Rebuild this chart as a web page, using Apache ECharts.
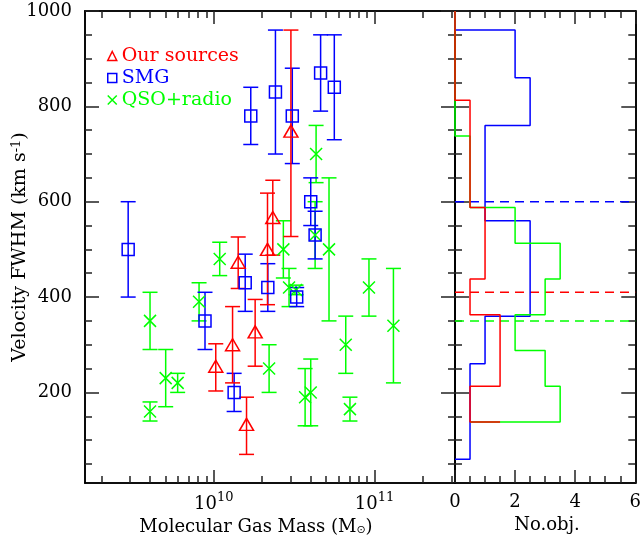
<!DOCTYPE html>
<html><head><meta charset="utf-8">
<script src="https://cdn.jsdelivr.net/npm/echarts@6/dist/echarts.min.js"></script>
<style>html,body{margin:0;padding:0;background:#fff}#c{width:644px;height:540px}</style>
</head><body><div id="c"></div>
<script>
// ---------------- data ----------------
// Our sources (red triangles): molecular gas mass (Msun), FWHM and error range (km/s)
const oursMass = [1.03e10, 1.31e10, 1.42e10, 1.60e10, 1.81e10, 2.16e10, 2.33e10, 3.02e10];
const oursFwhm = [255, 300, 473, 133, 327, 500, 567, 748];
const oursLo   = [203, 220, 418, 70, 255, 384, 488, 527];
const oursHi   = [302, 380, 526, 190, 395, 618, 645, 960];

// SMG (blue squares)
const smgMass = [2.94e9, 8.83e9, 1.34e10, 1.57e10, 1.70e10, 2.17e10, 2.42e10, 3.08e10, 3.28e10, 4.01e10, 4.27e10, 4.62e10, 5.62e10];
const smgFwhm = [500, 350, 200, 430, 780, 420, 830, 780, 400, 600, 530, 870, 840];
const smgLo   = [400, 290, 160, 370, 720, 370, 700, 680, 380, 550, 480, 790, 730];
const smgHi   = [600, 410, 240, 490, 840, 470, 960, 880, 420, 650, 580, 950, 950];

// QSO+radio (green crosses)
const qsoMass = [4.02e9, 4.02e9, 5.03e9, 5.97e9, 8.11e9, 1.09e10, 2.21e10, 2.71e10, 2.94e10, 3.25e10, 3.70e10, 4.01e10, 4.27e10, 4.33e10, 5.21e10, 6.62e10, 7.03e10, 9.23e10, 1.31e11];
const qsoFwhm = [350, 160, 230, 220, 390, 480, 250, 500, 420, 415, 190, 200, 530, 700, 500, 300, 165, 420, 340];
const qsoLo   = [290, 140, 170, 200, 350, 445, 200, 440, 380, 405, 130, 130, 460, 640, 350, 240, 140, 360, 220];
const qsoHi   = [410, 180, 290, 240, 430, 515, 300, 560, 460, 425, 250, 270, 600, 760, 650, 360, 190, 480, 460];

// Histograms (right panel): bin edges (km/s, top to bottom) and counts per bin
const smgHistEdges = [960, 860, 760, 660, 560, 460, 360, 260, 160, 60];
const smgHistCounts = [2, 2.5, 1, 1, 2.5, 2.5, 1, 0.5, 0.5];
const smgHistTail = 0;
const oursHistEdges = [963, 888, 813, 738, 663, 588, 513, 438, 363, 288, 213, 138];
const oursHistCounts = [0, 0, 0.5, 0.5, 0.5, 1, 1, 0.5, 1.5, 1.5, 0.5];
const oursHistTail = 1.5;
const qsoHistEdges = [963, 888, 813, 738, 663, 588, 513, 438, 363, 288, 213, 138];
const qsoHistCounts = [0, 0, 0, 0.5, 0.5, 2, 3.5, 3, 2, 3, 3.5];
const qsoHistTail = 0.5;

// median FWHM lines
const smgMedian = 600;
const oursMedian = 410;
const qsoMedian = 350;

// axes
const yMajorTicks = [200, 400, 600, 800, 1000];
const yMinorTicks = [50, 100, 150, 250, 300, 350, 450, 500, 550, 650, 700, 750, 850, 900, 950];
const xMajorExp = [10, 11];
const histMajorTicks = [0, 2, 4, 6];
const histMinorTicks = [0.5, 1, 1.5, 2.5, 3, 3.5, 4.5, 5, 5.5];

// ---------------- layout / styles ----------------
const FONT = 'DejaVu Serif';
const RED = '#ff0000', BLUE = '#0000ff', GREEN = '#00ff00';
const X_LOG_MIN = 9.2, X_LOG_MAX = 11.5;
const Y_MIN = 10, Y_MAX = 1000;
const H_MIN = 0, H_MAX = 6;

const xMinorLog = [];
for (let d = 9; d <= 11; d++) for (let k = 2; k <= 9; k++) {
  const v = Math.log10(k * Math.pow(10, d));
  if (v > X_LOG_MIN && v < X_LOG_MAX) xMinorLog.push(v);
}

const lineStyleAxis = { color: '#000', width: 1.6 };
function axis(dim, grid, pos, min, max, ticks, len, label) {
  const a = {
    type: 'value', gridIndex: grid, position: pos, min: min, max: max,
    axisLine: { show: true, onZero: false, lineStyle: lineStyleAxis },
    axisTick: { show: true, inside: true, length: len, customValues: ticks, lineStyle: { color: '#222', width: 1.5 } },
    axisLabel: { show: false },
    splitLine: { show: false }
  };
  if (label) a.axisLabel = label;
  return a;
}
const baseLabel = { show: true, color: '#000', fontFamily: FONT, fontSize: 18 };

const xAxes = [
  // grid 0 (log mass)
  axis('x', 0, 'bottom', X_LOG_MIN, X_LOG_MAX, xMajorExp, 13, Object.assign({}, baseLabel, {
    customValues: xMajorExp, margin: 8,
    formatter: v => '{b|10}{s|' + Math.round(v) + '}',
    rich: {
      b: { fontFamily: FONT, fontSize: 18, lineHeight: 26, color: '#000' },
      s: { fontFamily: FONT, fontSize: 13, lineHeight: 13, verticalAlign: 'top', color: '#000' }
    }
  })),
  axis('x', 0, 'bottom', X_LOG_MIN, X_LOG_MAX, xMinorLog, 7),
  axis('x', 0, 'top', X_LOG_MIN, X_LOG_MAX, xMajorExp, 13),
  axis('x', 0, 'top', X_LOG_MIN, X_LOG_MAX, xMinorLog, 7),
  // grid 1 (histogram counts)
  axis('x', 1, 'bottom', H_MIN, H_MAX, histMajorTicks, 13, Object.assign({}, baseLabel, {
    customValues: histMajorTicks, margin: 9, lineHeight: 20, formatter: v => String(v)
  })),
  axis('x', 1, 'bottom', H_MIN, H_MAX, histMinorTicks, 7),
  axis('x', 1, 'top', H_MIN, H_MAX, histMajorTicks, 13),
  axis('x', 1, 'top', H_MIN, H_MAX, histMinorTicks, 7)
];
const yAxes = [
  axis('y', 0, 'left', Y_MIN, Y_MAX, yMajorTicks, 14, Object.assign({}, baseLabel, {
    customValues: yMajorTicks, margin: 13, formatter: v => String(v)
  })),
  axis('y', 0, 'left', Y_MIN, Y_MAX, yMinorTicks, 7),
  axis('y', 0, 'right', Y_MIN, Y_MAX, yMajorTicks, 14),
  axis('y', 0, 'right', Y_MIN, Y_MAX, yMinorTicks, 7),
  axis('y', 1, 'left', Y_MIN, Y_MAX, yMajorTicks, 14),
  axis('y', 1, 'left', Y_MIN, Y_MAX, yMinorTicks, 7),
  axis('y', 1, 'right', Y_MIN, Y_MAX, yMajorTicks, 14),
  axis('y', 1, 'right', Y_MIN, Y_MAX, yMinorTicks, 7)
];

const CROSS = 'path://M0 0L10 10M10 0L0 10';

function pts(mass, fwhm) { return mass.map((m, i) => [Math.log10(m), fwhm[i]]); }
function errPts(mass, fwhm, lo, hi) { return mass.map((m, i) => [Math.log10(m), fwhm[i], lo[i], hi[i]]); }

function errSeries(name, color, data) {
  return {
    type: 'custom', name: name, xAxisIndex: 0, yAxisIndex: 0, z: 3,
    data: data, encode: { x: 0, y: [1, 2, 3] }, silent: true,
    renderItem: function (params, api) {
      const x = api.value(0);
      const lo = api.coord([x, api.value(2)]);
      const hi = api.coord([x, api.value(3)]);
      const w = 7.5;
      const style = { stroke: color, lineWidth: 1.5, fill: null };
      return {
        type: 'group', children: [
          { type: 'line', shape: { x1: lo[0], y1: lo[1], x2: hi[0], y2: hi[1] }, style: style },
          { type: 'line', shape: { x1: lo[0] - w, y1: lo[1], x2: lo[0] + w, y2: lo[1] }, style: style },
          { type: 'line', shape: { x1: hi[0] - w, y1: hi[1], x2: hi[0] + w, y2: hi[1] }, style: style }
        ]
      };
    }
  };
}
function scatterSeries(name, color, symbol, size, data) {
  return {
    type: 'scatter', name: name, xAxisIndex: 0, yAxisIndex: 0, z: 4,
    symbol: symbol, symbolSize: size, data: data, silent: true,
    itemStyle: { color: symbol === CROSS ? color : 'rgba(0,0,0,0)', borderColor: color, borderWidth: 1.5, opacity: 1 }
  };
}
function histPath(edges, counts, tail) {
  const p = [[0, Y_MAX], [0, edges[0]]];
  for (let i = 0; i < counts.length; i++) {
    p.push([counts[i], edges[i]]);
    p.push([counts[i], edges[i + 1]]);
  }
  p.push([tail, edges[edges.length - 1]]);
  return p;
}
function histSeries(name, color, data, z) {
  return {
    type: 'line', name: name, xAxisIndex: 4, yAxisIndex: 4, z: z, clip: false,
    data: data, symbol: 'none', silent: true, animation: false,
    lineStyle: { color: color, width: 1.5 }
  };
}
function medianSeries(name, color, value) {
  return {
    type: 'line', name: name, xAxisIndex: 4, yAxisIndex: 4, z: 2, clip: false,
    data: [[H_MIN, value], [H_MAX, value]], symbol: 'none', silent: true,
    lineStyle: { color: color, width: 1.5, type: [9, 6] }
  };
}

const option = {
  animation: false,
  backgroundColor: '#fff',
  grid: [
    { left: 85, top: 11, width: 370, height: 472 },
    { left: 455, top: 11, width: 184, height: 472 }
  ],
  xAxis: xAxes,
  yAxis: yAxes,
  legend: {
    orient: 'vertical', left: 102, top: 41, itemWidth: 9, itemHeight: 9, itemGap: 2,
    selectedMode: false,
    textStyle: { fontFamily: FONT, fontSize: 19, lineHeight: 20 },
    data: [
      { name: 'Our sources', icon: 'triangle', itemStyle: { color: 'rgba(0,0,0,0)', borderColor: RED, borderWidth: 1.5 }, textStyle: { color: RED } },
      { name: 'SMG', icon: 'rect', itemStyle: { color: 'rgba(0,0,0,0)', borderColor: BLUE, borderWidth: 1.5 }, textStyle: { color: BLUE } },
      { name: 'QSO+radio', icon: CROSS, itemStyle: { color: GREEN, borderColor: GREEN, borderWidth: 1.5 }, textStyle: { color: GREEN } }
    ]
  },
  graphic: [
    { type: 'text', x: 20, y: 247, rotation: Math.PI / 2,
      style: { text: 'Velocity FWHM (km s{sup|-1})', fontFamily: FONT, fontSize: 19, fill: '#000', align: 'center', verticalAlign: 'middle',
        rich: { sup: { fontFamily: FONT, fontSize: 13, lineHeight: 13, verticalAlign: 'top', fill: '#000' } } } },
    { type: 'text', x: 256, y: 527,
      style: { text: 'Molecular Gas Mass (M{sub|\u2299})', fontFamily: FONT, fontSize: 18, fill: '#000', align: 'center', verticalAlign: 'middle',
        rich: { sub: { fontSize: 11, fontFamily: 'DejaVu Sans', verticalAlign: 'bottom', lineHeight: 12 } } } },
    { type: 'text', x: 547, y: 525,
      style: { text: 'No.obj.', fontFamily: FONT, fontSize: 18, fill: '#000', align: 'center', verticalAlign: 'middle' } }
  ],
  series: [
    errSeries('qso-err', GREEN, errPts(qsoMass, qsoFwhm, qsoLo, qsoHi)),
    scatterSeries('QSO+radio', GREEN, CROSS, 12, pts(qsoMass, qsoFwhm)),
    errSeries('smg-err', BLUE, errPts(smgMass, smgFwhm, smgLo, smgHi)),
    scatterSeries('SMG', BLUE, 'rect', 12, pts(smgMass, smgFwhm)),
    errSeries('ours-err', RED, errPts(oursMass, oursFwhm, oursLo, oursHi)),
    scatterSeries('Our sources', RED, 'triangle', [14, 12], pts(oursMass, oursFwhm)),
    histSeries('smg-hist', BLUE, histPath(smgHistEdges, smgHistCounts, smgHistTail), 3),
    histSeries('qso-hist', GREEN, histPath(qsoHistEdges, qsoHistCounts, qsoHistTail), 4),
    histSeries('ours-hist', RED, histPath(oursHistEdges, oursHistCounts, oursHistTail), 5),
    medianSeries('smg-med', BLUE, smgMedian),
    medianSeries('ours-med', RED, oursMedian),
    medianSeries('qso-med', GREEN, qsoMedian)
  ]
};
const chart = echarts.init(document.getElementById('c'), null, { renderer: 'canvas' });
chart.setOption(option);
</script>
</body></html>
